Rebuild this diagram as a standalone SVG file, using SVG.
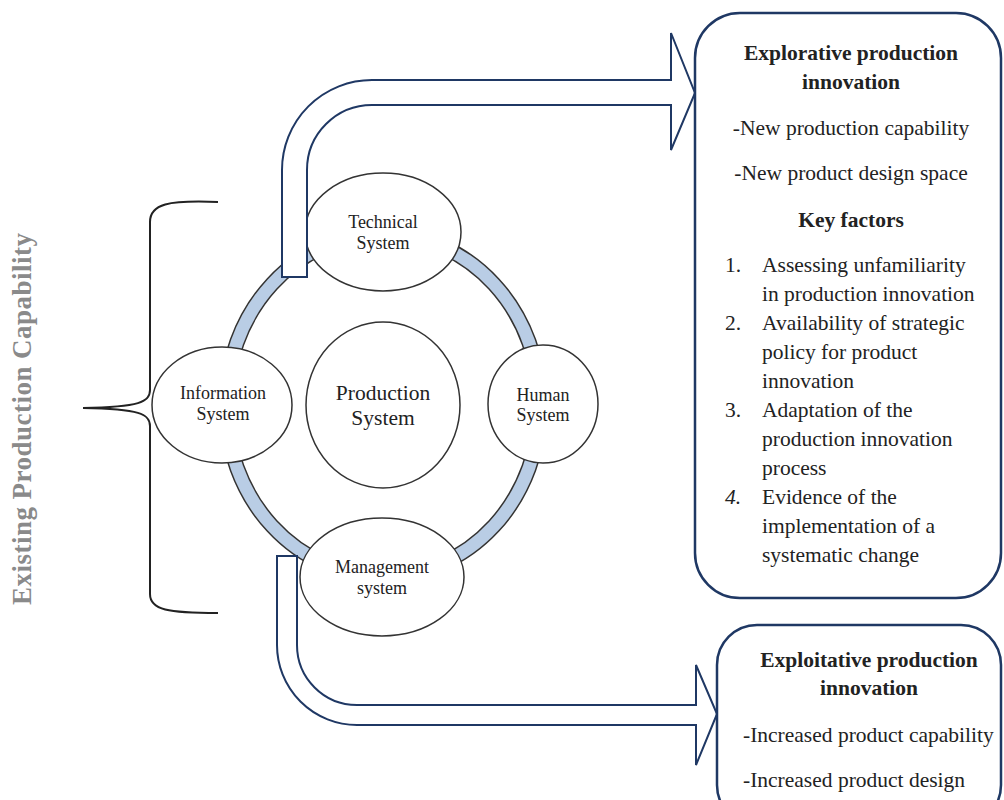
<svg xmlns="http://www.w3.org/2000/svg" width="1004" height="800" viewBox="0 0 1004 800">
<style>
  text { font-family: "Liberation Serif", "Times New Roman", serif; fill: #222; }
  .node { fill: #fff; stroke: #333; stroke-width: 1.5; }
  .lbl { font-size: 18px; text-anchor: middle; }
  .big { font-size: 21.5px; text-anchor: middle; }
  .arrow { fill: #fff; stroke: #1f3864; stroke-width: 2; stroke-linejoin: miter; }
  .box { fill: #fff; stroke: #1f3864; stroke-width: 2.5; }
  .bt { font-size: 21.5px; }
  .c { text-anchor: middle; }
  .b { font-weight: bold; }
  .ring { fill: none; stroke: #333; stroke-width: 1.5; }
</style>

<!-- side label and brace -->
<text x="0" y="0" transform="translate(31,419) rotate(-90)" text-anchor="middle" font-size="27" font-weight="bold" textLength="372" lengthAdjust="spacing" style="fill:#8a8a8a">Existing  Production Capability</text>
<path d="M218,202 C168,200 150,204 150,222 L150,390 C150,402 140,407 83,408 C140,409 150,414 150,426 L150,594 C150,610 168,613 218,613" fill="none" stroke="#222" stroke-width="2"/>

<!-- ring -->
<g id="ring">
  <ellipse cx="383" cy="405" rx="157" ry="171" fill="none" stroke="#b9cde5" stroke-width="13"/>
  <ellipse cx="383" cy="405" rx="164" ry="178" class="ring"/>
  <ellipse cx="383" cy="405" rx="150" ry="164" class="ring"/>
</g>

<g id="production">
  <ellipse cx="383" cy="405" rx="77" ry="83" class="node"/>
  <text x="383" y="400" class="big">Production</text>
  <text x="383" y="425" class="big">System</text>
</g>
<g id="technical">
  <ellipse cx="383" cy="232" rx="78" ry="59" class="node"/>
  <text x="383" y="228" class="lbl">Technical</text>
  <text x="383" y="249" class="lbl">System</text>
</g>
<g id="information">
  <ellipse cx="222" cy="405" rx="70" ry="58" class="node"/>
  <text x="223" y="399" class="lbl">Information</text>
  <text x="223" y="420" class="lbl">System</text>
</g>
<g id="human">
  <ellipse cx="543" cy="404" rx="55" ry="59" class="node"/>
  <text x="543" y="401" class="lbl">Human</text>
  <text x="543" y="421" class="lbl">System</text>
</g>
<g id="management">
  <ellipse cx="382" cy="577" rx="82" ry="59" class="node"/>
  <text x="382" y="573" class="lbl">Management</text>
  <text x="382" y="594" class="lbl">system</text>
</g>

<!-- connectors -->
<g id="connectors">
  <path class="arrow" d="M282,277 L282,170 A90,90 0 0 1 372,80 L671,80 L671,33 L695,93 L671,150 L671,105 L372,105 A65,65 0 0 0 307,170 L307,277 Z"/>
  <path class="arrow" d="M277,556 L297,556 L297,645 A60,60 0 0 0 357,705 L696,705 L696,665 L717,714 L696,765 L696,725 L357,725 A80,80 0 0 1 277,645 Z"/>
</g>

<g id="explorative">
  <rect x="695" y="13" width="306" height="585" rx="45" ry="45" class="box"/>
  <text x="851" y="60" class="bt c b">Explorative production</text>
  <text x="851" y="89" class="bt c b">innovation</text>
  <text x="851" y="135" class="bt c">-New production capability</text>
  <text x="851" y="180" class="bt c">-New product design space</text>
  <text x="851" y="227" class="bt c b">Key factors</text>
  <text x="725" y="272" class="bt">1.</text>
  <text x="762" y="272" class="bt">Assessing unfamiliarity</text>
  <text x="762" y="301" class="bt">in production innovation</text>
  <text x="725" y="330" class="bt">2.</text>
  <text x="762" y="330" class="bt">Availability of strategic</text>
  <text x="762" y="359" class="bt">policy for product</text>
  <text x="762" y="388" class="bt">innovation</text>
  <text x="725" y="417" class="bt">3.</text>
  <text x="762" y="417" class="bt">Adaptation of the</text>
  <text x="762" y="446" class="bt">production innovation</text>
  <text x="762" y="475" class="bt">process</text>
  <text x="725" y="504" class="bt" font-style="italic">4.</text>
  <text x="762" y="504" class="bt">Evidence of the</text>
  <text x="762" y="533" class="bt">implementation of a</text>
  <text x="762" y="562" class="bt">systematic change</text>
</g>

<g id="exploitative">
  <rect x="717" y="625" width="284" height="200" rx="40" ry="40" class="box"/>
  <text x="869" y="667" class="bt c b">Exploitative production</text>
  <text x="869" y="695" class="bt c b">innovation</text>
  <text x="743" y="742" class="bt">-Increased product capability</text>
  <text x="743" y="787" class="bt">-Increased product design</text>
</g>
</svg>
